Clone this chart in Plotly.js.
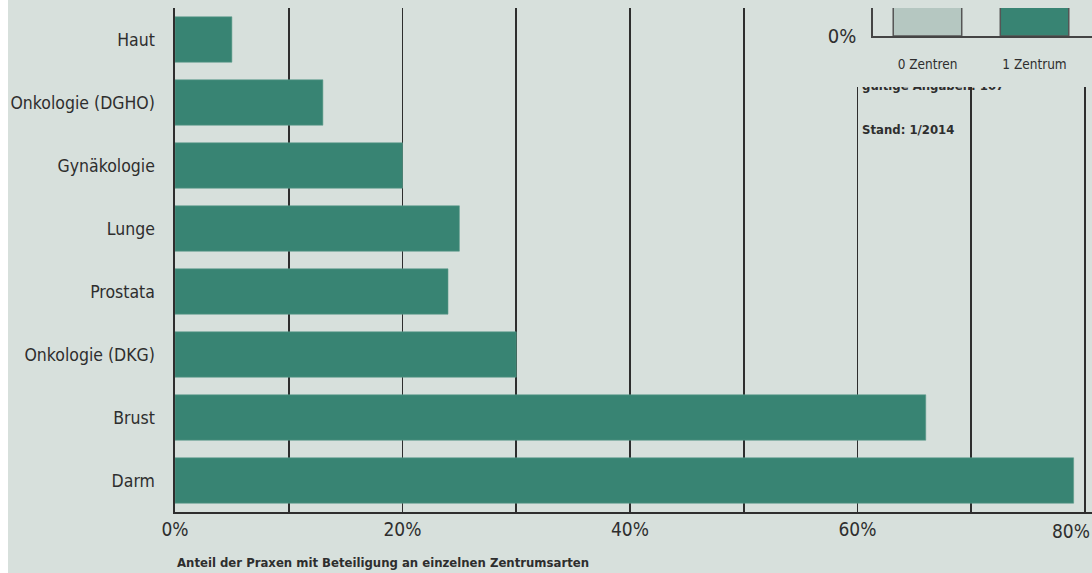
<!DOCTYPE html>
<html>
<head>
<meta charset="utf-8">
<script src="https://cdn.plot.ly/plotly-3.0.1.min.js"></script>
<style>
  html, body { margin: 0; padding: 0; background: #ffffff; }
  #chart { width: 1092px; height: 573px; }
</style>
</head>
<body>
<div id="chart"></div>
<script>
// ---- data ----
const categories = ["Haut", "Onkologie (DGHO)", "Gynäkologie", "Lunge", "Prostata", "Onkologie (DKG)", "Brust", "Darm"];
const shares = [5, 13, 20, 25, 24, 30, 66, 79];
const xTickValues = [0, 20, 40, 60];
const xTickLabels = ["0%", "20%", "40%", "60%"];
const lastTickValue = 80;
const lastTickLabel = "80%";
const axisTitle = "Anteil der Praxen mit Beteiligung an einzelnen Zentrumsarten";

const insetCategories = ["0 Zentren", "1 Zentrum"];
const insetShares = [40, 30];
const noteTexts = ["gültige Angaben: 107", "Stand: 1/2014"];

// ---- style ----
const BG = "#d7e0dc";
const TEAL = "#388473";
const GREY_BAR = "#b5c7c1";
const INK = "#2e2e2e";
const FONT = "'Liberation Sans Narrow', 'DejaVu Sans Condensed', 'Arial Narrow', sans-serif";

const W = 1092, H = 573;
const mL = 175, mR = 0, mT = 8, mB = 61;
const plotW = W - mL - mR, plotH = H - mT - mB;
const pxPerPct = 11.375;
const xMax = plotW / pxPerPct;

function dx(px) { return (px - mL) / plotW; }
function dy(pxFromTop) { return (H - mB - pxFromTop) / plotH; }

const traces = [
  {
    type: "bar", orientation: "h",
    y: categories, x: shares,
    xaxis: "x", yaxis: "y",
    marker: { color: TEAL, line: { width: 0.6, color: "#5e9c8b" } },
    hoverinfo: "skip"
  },
  {
    type: "scatter", mode: "text",
    x: [60.4, 60.4], y: [79, 123],
    xaxis: "x", yaxis: "y4",
    text: noteTexts.map(t => "<b>" + t + "</b>"),
    textposition: "middle right",
    textfont: { family: FONT, size: 13, color: INK },
    cliponaxis: false,
    hoverinfo: "skip", showlegend: false
  },
  {
    type: "scatter", mode: "markers",
    x: [], y: [], xaxis: "x2", yaxis: "y2",
    hoverinfo: "skip", showlegend: false
  },
  {
    type: "bar",
    x: insetCategories, y: insetShares,
    xaxis: "x3", yaxis: "y3",
    width: 0.64,
    marker: { color: [GREY_BAR, TEAL], line: { width: 1.5, color: "#555555" } },
    hoverinfo: "skip", showlegend: false
  }
];

const layout = {
  width: W, height: H,
  paper_bgcolor: "#ffffff",
  plot_bgcolor: BG,
  margin: { l: mL, r: mR, t: mT, b: mB, pad: 0 },
  showlegend: false,
  bargap: 0.28,
  font: { family: FONT, color: INK, size: 18 },
  xaxis: {
    domain: [0, 1],
    range: [0, xMax],
    tickvals: xTickValues, ticktext: xTickLabels,
    showgrid: true, gridcolor: INK, gridwidth: 1.6,
    minor: { dtick: 10, tick0: 0, showgrid: true, gridcolor: INK, gridwidth: 1.6 },
    zeroline: false,
    showline: true, linecolor: INK, linewidth: 1.6,
    ticks: "", tickfont: { size: 19, color: INK },
    ticklabelstandoff: 0,
    fixedrange: true
  },
  yaxis: {
    domain: [0, 1],
    type: "category",
    categoryorder: "array", categoryarray: categories,
    range: [categories.length - 0.5, -0.5],
    showgrid: false, zeroline: false,
    showline: true, linecolor: INK, linewidth: 1.6,
    ticks: "", ticklabelstandoff: 15,
    tickfont: { size: 17.5, color: INK },
    fixedrange: true
  },
  yaxis4: {
    overlaying: "y", anchor: "x",
    range: [plotH, 0], visible: false, fixedrange: true
  },
  xaxis2: { domain: [dx(800), 1], anchor: "y2", visible: false, range: [0, 1], fixedrange: true },
  yaxis2: { domain: [dy(87), 1], anchor: "x2", visible: false, range: [0, 1], fixedrange: true },
  xaxis3: {
    domain: [dx(873), 1], anchor: "y3",
    type: "category", range: [-0.509, 1.537],
    showline: true, linecolor: "#444444", linewidth: 1.6,
    showgrid: false, zeroline: false, ticks: "",
    tickfont: { size: 13.5, color: INK }, ticklabelstandoff: 15,
    fixedrange: true
  },
  yaxis3: {
    domain: [dy(36), 1], anchor: "x3",
    range: [0, 5],
    tickvals: [0], ticktext: ["0%"],
    showline: true, linecolor: "#444444", linewidth: 1.6,
    showgrid: false, zeroline: false, ticks: "",
    tickfont: { size: 20, color: INK }, ticklabelstandoff: 11,
    fixedrange: true
  },
  shapes: [
    { type: "rect", xref: "paper", yref: "paper", layer: "below",
      x0: dx(8), x1: 1.01, y0: -0.2, y1: 1.1,
      fillcolor: BG, line: { width: 0 } }
  ],
  annotations: [
    { xref: "paper", yref: "paper", x: 0, y: 0, xanchor: "left", yanchor: "middle",
      yshift: -50, showarrow: false,
      text: "<b>" + axisTitle + "</b>",
      font: { family: FONT, size: 13, color: INK } },
    { xref: "x", yref: "paper", x: lastTickValue, y: 0, xanchor: "right", yanchor: "top",
      xshift: 7, yshift: -6, showarrow: false,
      text: lastTickLabel,
      font: { family: FONT, size: 19, color: INK } }
  ]
};

Plotly.newPlot("chart", traces, layout, { displayModeBar: false, staticPlot: true });
</script>
</body>
</html>
